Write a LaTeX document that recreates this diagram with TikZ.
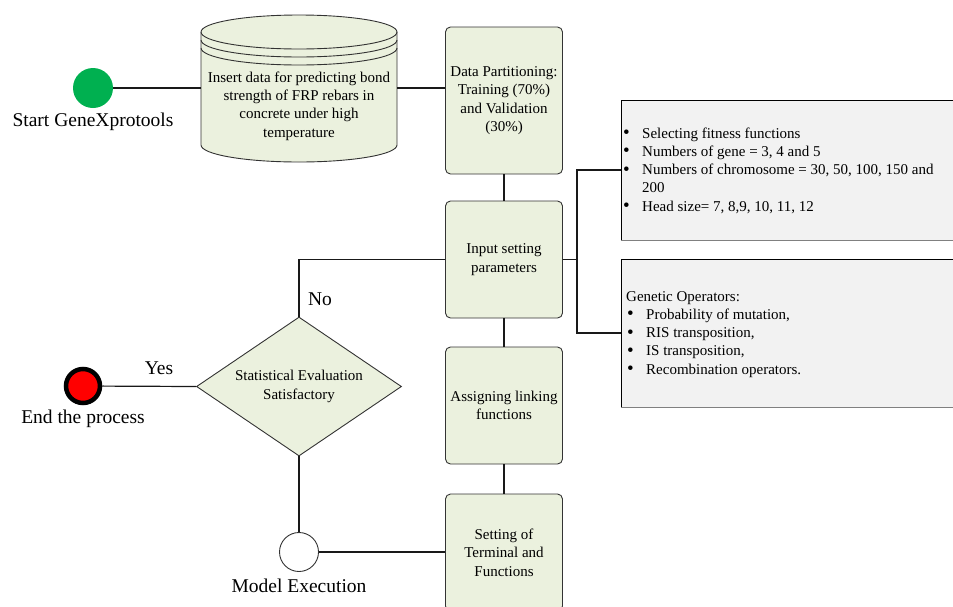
\documentclass[tikz,border=0pt]{standalone}
\usepackage{fontspec}
\setmainfont{Liberation Serif}
\usetikzlibrary{shapes.geometric}
\definecolor{boxgreen}{HTML}{EBF1DE}
\definecolor{startgreen}{HTML}{00B050}
\definecolor{notegray}{HTML}{F2F2F2}
\newcommand{\blob}{\raisebox{-0.6pt}{\fontsize{19}{18}\selectfont\textbullet}}
\tikzset{
    procbox/.style={draw=black!80,fill=boxgreen,rounded corners=5pt,line width=0.9pt,
        minimum width=117pt,minimum height=117pt,align=center,inner sep=2pt},
    notebox/.style={draw=black,fill=notegray,line width=0.8pt,minimum width=340pt,
        anchor=west,inner sep=0pt},
    caption/.style={font=\fontsize{19.5}{22}\selectfont},
    link/.style={draw=black!90,line width=1.2pt}
}
\begin{document}
\begin{tikzpicture}[x=1pt,y=1pt,font=\fontsize{15}{18.3}\selectfont]
        \useasboundingbox (0,0) rectangle (953,-606);

        \node[circle,fill=startgreen,minimum size=40pt] (start) at (93,-88) {};
        \node[caption] (startlbl) at (93,-122) {Start GeneXprotools};

        \filldraw[fill=boxgreen,draw=black!80,line width=0.9pt] (201,-32) -- (201,-145) arc[start angle=180,end angle=360,x radius=98,y radius=17] -- (397,-32) arc[start angle=0,end angle=180,x radius=98,y radius=17] -- cycle;
        \draw[black!80,line width=0.9pt] (201,-32) arc[start angle=180,end angle=360,x radius=98,y radius=17];
        \draw[black!80,line width=0.9pt] (201,-40) arc[start angle=180,end angle=360,x radius=98,y radius=17];
        \draw[black!80,line width=0.9pt] (201,-48) arc[start angle=180,end angle=360,x radius=98,y radius=17];
        \coordinate (dataW) at (201,-88);
        \coordinate (dataE) at (397,-88);
        \node[align=center] (data) at (299,-106) {Insert data for predicting bond\\strength of FRP rebars in\\concrete under high\\temperature};

        \node[procbox,minimum height=147pt] (part) at (504,-100.5) {Data Partitioning:\\Training (70\%)\\and Validation\\(30\%)};
        \node[procbox] (input) at (504,-259.5) {Input setting\\parameters};
        \node[procbox] (link) at (504,-405.5) {Assigning linking\\functions};
        \node[procbox] (term) at (504,-552.5) {Setting of\\Terminal and\\Functions};

        \node[notebox,minimum height=140pt] (genes) at (621,-170) {};
        \draw[gray,line width=1.5pt] (genes.south west) -- (genes.south east);
        \node[anchor=north west,inner sep=0pt] (genestxt) at (623,-125) {\begin{tabular}{@{}p{19pt}@{}l@{}}
        \blob & Selecting fitness functions\\
        \blob & Numbers of gene = 3, 4 and 5\\
        \blob & Numbers of chromosome = 30, 50, 100, 150 and\\
         & 200\\
        \blob & Head size= 7, 8,9, 10, 11, 12
        \end{tabular}};

        \node[notebox,minimum height=148pt] (ops) at (621,-333) {};
        \draw[gray,line width=1.5pt] (ops.south west) -- (ops.south east);
        \node[anchor=north west,inner sep=0pt] (opstxt) at (626,-288) {\begin{tabular}{@{}l@{}}
        Genetic Operators:\\
        \makebox[20pt][l]{\hspace{1pt}\blob}Probability of mutation,\\
        \makebox[20pt][l]{\hspace{1pt}\blob}RIS transposition,\\
        \makebox[20pt][l]{\hspace{1pt}\blob}IS transposition,\\
        \makebox[20pt][l]{\hspace{1pt}\blob}Recombination operators.
        \end{tabular}};

        \node[diamond,draw=black!80,fill=boxgreen,line width=0.9pt,aspect=1.46,
            minimum width=205pt,minimum height=139pt,inner sep=0pt,align=center] (eval) at (299,-386.5) {Statistical Evaluation\\Satisfactory};

        \node[circle,draw=black,line width=4.5pt,fill=red,minimum size=34pt] (finish) at (83,-386) {};
        \node[caption] (finishlbl) at (83,-419) {End the process};

        \node[circle,draw=black!80,line width=0.9pt,fill=white,minimum size=39pt] (run) at (299,-552) {};
        \node[caption] (runlbl) at (299,-586) {Model Execution};

        \node[caption] (yes) at (159,-368) {Yes};
        \node[caption] (no) at (320,-299) {No};

        \draw[link] (start) -- (dataW);
        \draw[link] (dataE) -- (dataE -| part.west);
        \draw[link] (part) -- (input);
        \draw[link] (input) -- (link);
        \draw[link] (link) -- (term);
        \draw[link] (input.east) -- (577,-259.5) coordinate (fork);
        \draw[link] (genes.west) -| (fork) |- (ops.west);
        \draw[link] (input.west) -| (eval.north);
        \draw[link] (eval.west) -- (finish);
        \draw[link] (eval.south) -- (run);
        \draw[link] (run) -- (run -| term.west);
\end{tikzpicture}
\end{document}
